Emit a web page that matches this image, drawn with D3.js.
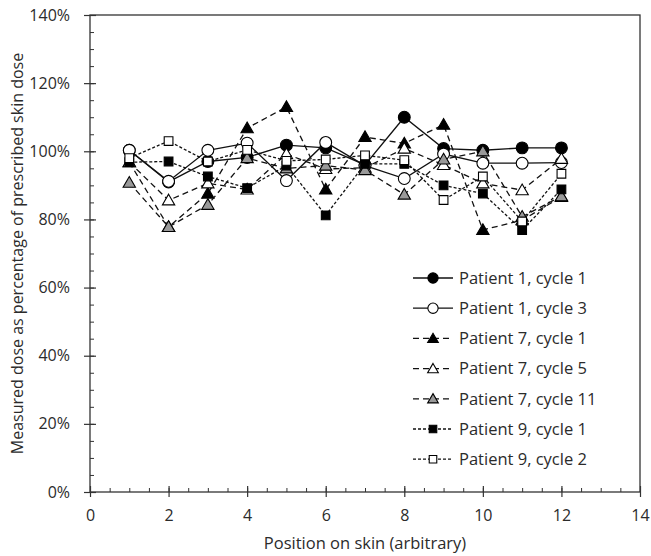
<!DOCTYPE html>
<html>
<head>
<meta charset="utf-8">
<script src="https://cdn.jsdelivr.net/npm/d3@7"></script>
<style>
  body { margin: 0; background: #fff; }
  text { font-family: "Open Sans", sans-serif; fill: #2b2b2b; }
</style>
</head>
<body>
<script>
// skin positions and measured dose (% of prescribed)
const positions = [1, 2, 3, 4, 5, 6, 7, 8, 9, 10, 11, 12];
const p1c1 = [100.3, 91, 97, 98.2, 101.8, 101, 96, 110, 100.8, 100.3, 101, 101];
const p1c3 = [100.3, 91.2, 100.3, 102.4, 91.4, 102.6, 95.8, 92, 99.2, 96.5, 96.5, 96.7];
const p7c1 = [96.8, 77.8, 87.6, 106.8, 113, 88.8, 104.2, 102.3, 107.8, 76.9, 79.8, 86.6];
const p7c5 = [96.8, 85.6, 90.6, 88.8, 99.2, 94.8, 95.2, 100.8, 96, 90.6, 88.6, 97.8];
const p7c11 = [90.8, 77.8, 84.3, 98, 95, 95.8, 94.5, 87.3, 97.6, 100, 80.8, 86.8];
const p9c1 = [96.8, 97, 92.6, 89.2, 95.8, 81.2, 96.3, 96.3, 90, 87.6, 76.9, 88.8];
const p9c2 = [98, 103, 97, 100.4, 97.2, 97.6, 98.8, 97.4, 85.7, 92.6, 79.4, 93.4];

const xTicks = [0, 2, 4, 6, 8, 10, 12, 14];
const yTicks = [0, 20, 40, 60, 80, 100, 120, 140];

const series = [
  {name: 'Patient 1, cycle 1', values: p1c1, shape: 'circle', fill: '#000', dash: null},
  {name: 'Patient 1, cycle 3', values: p1c3, shape: 'circle', fill: '#fff', dash: null},
  {name: 'Patient 7, cycle 1', values: p7c1, shape: 'triangle', fill: '#000', dash: '6,4'},
  {name: 'Patient 7, cycle 5', values: p7c5, shape: 'triangle', fill: '#fff', dash: '6,4'},
  {name: 'Patient 7, cycle 11', values: p7c11, shape: 'triangle', fill: '#999', dash: '6,4'},
  {name: 'Patient 9, cycle 1', values: p9c1, shape: 'square', fill: '#000', dash: '3,2'},
  {name: 'Patient 9, cycle 2', values: p9c2, shape: 'square', fill: '#fff', dash: '3,2'}
];

const svgWidth = 651;
const svgHeight = 556;
const margin = {left: 90, right: 11, top: 15, bottom: 64};

const svg = d3.select('body').append('svg')
  .attr('width', svgWidth)
  .attr('height', svgHeight);

const x = d3.scaleLinear().domain([0, 14]).range([margin.left, svgWidth - margin.right]);
const y = d3.scaleLinear().domain([0, 140]).range([svgHeight - margin.bottom, margin.top]);

// frame
svg.append('rect')
  .attr('x', x(0)).attr('y', y(140))
  .attr('width', x(14) - x(0)).attr('height', y(0) - y(140))
  .attr('fill', 'none').attr('stroke', '#333').attr('stroke-width', 1.3);

// minor ticks, inside
svg.append('g')
  .attr('transform', `translate(${x(0)},0)`)
  .call(d3.axisLeft(y).tickValues(d3.range(0, 141, 5)).tickSize(-4).tickFormat(''))
  .call(g => g.select('.domain').remove())
  .selectAll('line').attr('stroke', '#333');
svg.append('g')
  .attr('transform', `translate(0,${y(0)})`)
  .call(d3.axisBottom(x).tickValues(d3.range(0, 14.01, 0.5)).tickSize(-4).tickFormat(''))
  .call(g => g.select('.domain').remove())
  .selectAll('line').attr('stroke', '#333');

// major ticks, crossing
const yAxis = svg.append('g')
  .attr('transform', `translate(${x(0)},0)`)
  .call(d3.axisLeft(y).tickValues(yTicks).tickSize(6).tickPadding(14).tickFormat(d => d + '%'));
yAxis.select('.domain').remove();
yAxis.selectAll('line').attr('x1', 6).attr('stroke', '#333').attr('stroke-width', 1.2);
yAxis.selectAll('text').style('font-size', '16px');

const xAxis = svg.append('g')
  .attr('transform', `translate(0,${y(0)})`)
  .call(d3.axisBottom(x).tickValues(xTicks).tickSize(5).tickPadding(13));
xAxis.select('.domain').remove();
xAxis.selectAll('line').attr('y1', -6).attr('stroke', '#333').attr('stroke-width', 1.2);
xAxis.selectAll('text').style('font-size', '16px');

// axis titles
svg.append('text')
  .attr('x', (x(0) + x(14)) / 2).attr('y', 549)
  .attr('text-anchor', 'middle').style('font-size', '16.5px')
  .text('Position on skin (arbitrary)');
svg.append('text')
  .attr('transform', `translate(23,${(y(0) + y(140)) / 2}) rotate(-90)`)
  .attr('text-anchor', 'middle').style('font-size', '16px')
  .text('Measured dose as percentage of prescribed skin dose');

const symbols = {circle: d3.symbolCircle, triangle: d3.symbolTriangle, square: d3.symbolSquare};
const sizes = {circle: 110, triangle: 66, square: 76};
const symbolPath = (s) => d3.symbol().type(symbols[s.shape]).size(sizes[s.shape])();

const line = d3.line().x((d, i) => x(positions[i])).y(d => y(d));

const plot = svg.append('g');
series.forEach((s) => {
  plot.append('path')
    .datum(s.values)
    .attr('d', line)
    .attr('fill', 'none')
    .attr('stroke', '#111')
    .attr('stroke-width', 1.3)
    .attr('stroke-dasharray', s.dash);
  plot.selectAll(null)
    .data(s.values).enter()
    .append('path')
    .attr('transform', (d, i) => `translate(${x(positions[i])},${y(d) + (s.shape === 'triangle' ? 1 : 0)})`)
    .attr('d', symbolPath(s))
    .attr('fill', s.fill)
    .attr('stroke', '#000')
    .attr('stroke-width', 1.1);
});

// legend
const legend = svg.append('g').attr('transform', 'translate(413,278)');
series.forEach((s, i) => {
  const row = legend.append('g').attr('transform', `translate(0,${i * 30.2})`);
  row.append('line')
    .attr('x1', 0).attr('x2', 40).attr('y1', 0).attr('y2', 0)
    .attr('stroke', '#111').attr('stroke-width', 1.3)
    .attr('stroke-dasharray', s.dash);
  row.append('path')
    .attr('transform', `translate(20,${s.shape === 'triangle' ? 1 : 0})`)
    .attr('d', d3.symbol().type(symbols[s.shape]).size(sizes[s.shape] * 0.75)())
    .attr('fill', s.fill).attr('stroke', '#000').attr('stroke-width', 1.1);
  row.append('text')
    .attr('x', 46).attr('y', 0).attr('dy', '0.35em')
    .style('font-size', '16.5px')
    .text(s.name);
});
</script>
</body>
</html>
